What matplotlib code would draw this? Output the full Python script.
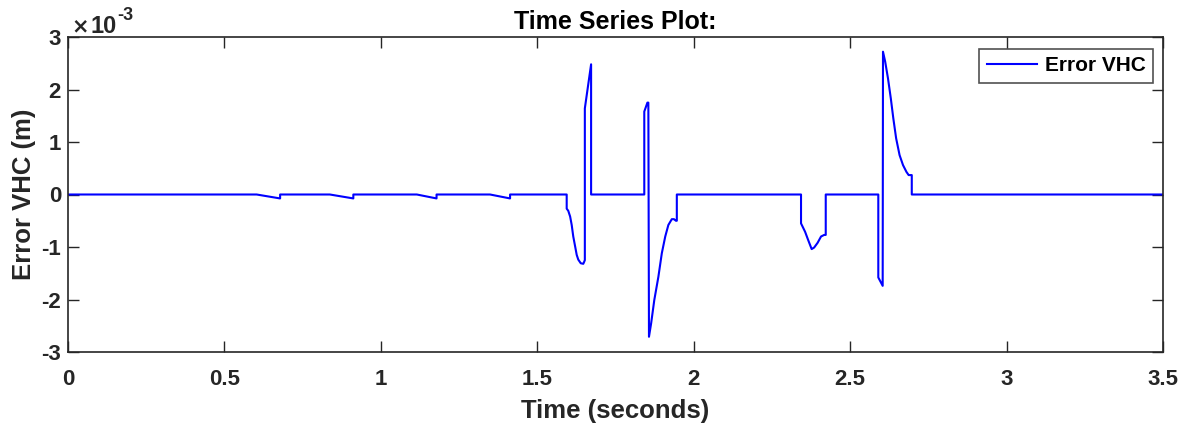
import matplotlib
matplotlib.use("Agg")
import matplotlib.pyplot as plt

plt.rcParams['font.family'] = ['Liberation Sans', 'DejaVu Sans']
plt.rcParams['font.weight'] = 'bold'

# Error trace (values in units of 1e-3 m)
time_s = [0.0, 0.603, 0.678, 0.678, 0.837, 0.912, 0.912, 1.115, 1.178, 1.178,
          1.349, 1.413, 1.413,
          1.594, 1.594, 1.599, 1.605, 1.610, 1.615, 1.621, 1.626, 1.631, 1.639,
          1.647, 1.650, 1.652, 1.652, 1.672, 1.672,
          1.842, 1.842, 1.852, 1.855, 1.857, 1.864, 1.874, 1.887, 1.898, 1.909,
          1.919, 1.930, 1.937, 1.943, 1.946, 1.946,
          2.343, 2.343, 2.356, 2.366, 2.377, 2.385, 2.396, 2.407, 2.417, 2.422,
          2.422,
          2.590, 2.590, 2.604, 2.605, 2.612, 2.621, 2.630, 2.638, 2.647, 2.658,
          2.669, 2.680, 2.687, 2.695, 2.697, 2.697,
          3.5]
error_vhc = [0.0, 0.0, -0.075, 0.0, 0.0, -0.075, 0.0, 0.0, -0.075, 0.0,
             0.0, -0.075, 0.0,
             0.0, -0.27, -0.31, -0.42, -0.58, -0.80, -0.99, -1.15, -1.24, -1.31,
             -1.32, -1.28, -1.25, 1.64, 2.48, 0.0,
             0.0, 1.58, 1.75, 1.75, -2.71, -2.45, -2.01, -1.57, -1.12, -0.80,
             -0.58, -0.47, -0.47, -0.50, -0.50, 0.0,
             0.0, -0.55, -0.71, -0.87, -1.04, -1.01, -0.92, -0.80, -0.77, -0.77,
             0.0,
             0.0, -1.58, -1.74, 2.72, 2.53, 2.21, 1.83, 1.45, 1.07, 0.75,
             0.56, 0.43, 0.37, 0.37, 0.37, 0.0,
             0.0]

x_ticks = [0, 0.5, 1, 1.5, 2, 2.5, 3, 3.5]
x_tick_labels = ['0', '0.5', '1', '1.5', '2', '2.5', '3', '3.5']
y_ticks = [-3, -2, -1, 0, 1, 2, 3]
y_tick_labels = ['-3', '-2', '-1', '0', '1', '2', '3']

W, H = 1193, 432
fig = plt.figure(figsize=(W / 100, H / 100), dpi=100)
ax = fig.add_axes([68 / W, 1 - 352 / H, (1163 - 68) / W, (352 - 37) / H])

ax.plot(time_s, error_vhc, color='#0000ff', linewidth=1.5, label='Error VHC',
        solid_joinstyle='round')

ax.set_xlim(0, 3.5)
ax.set_ylim(-3, 3)
ax.set_xticks(x_ticks)
ax.set_xticklabels(x_tick_labels)
ax.set_yticks(y_ticks)
ax.set_yticklabels(y_tick_labels)
ax.tick_params(direction='in', top=True, right=True, length=8, width=1,
               labelsize=16, colors='#262626')
ax.tick_params(axis='x', pad=12.5)
ax.tick_params(axis='y', pad=5)
for lbl in ax.get_xticklabels() + ax.get_yticklabels():
    lbl.set_fontweight('bold')
for sp in ax.spines.values():
    sp.set_linewidth(1.2)
    sp.set_color('#262626')

ax.set_xlabel('Time (seconds)', fontsize=18.5, fontweight='bold', color='#262626', labelpad=6)
ax.set_ylabel('Error VHC (m)', fontsize=18.5, fontweight='bold', color='#262626', labelpad=4)
ax.set_title('Time Series Plot:', fontsize=18, fontweight='bold', color='black', pad=6)

# exponent label for the y axis
fig.text(71 / W, 1 - 33 / H, r'$\times$', fontsize=15, color='#262626',
         ha='left', va='baseline')
fig.text(91 / W, 1 - 33 / H, '10', fontsize=17, fontweight='bold',
         color='#262626', ha='left', va='baseline')
fig.text(117 / W, 1 - 20 / H, '-3', fontsize=13, fontweight='bold',
         color='#262626', ha='left', va='baseline')

leg = ax.legend(loc='upper right', fontsize=15, frameon=True, fancybox=False,
                edgecolor='#262626', handlelength=2.4, handletextpad=0.4,
                borderpad=0.35, borderaxespad=0,
                bbox_to_anchor=((1153 - 68) / 1095, (352 - 49) / 315))
leg.get_frame().set_linewidth(1.2)
for t in leg.get_texts():
    t.set_fontweight('bold')
    t.set_color('black')

fig.savefig('out.png', dpi=100, facecolor='white')
